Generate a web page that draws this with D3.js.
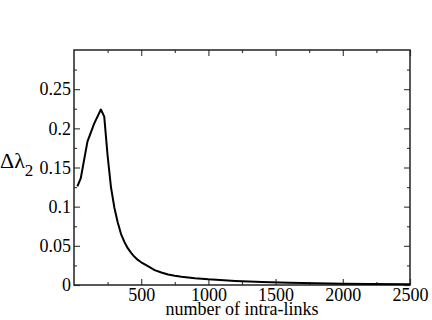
<!DOCTYPE html>
<html>
<head>
<meta charset="utf-8">
<script src="https://cdn.jsdelivr.net/npm/d3@7"></script>
<style>
  body { margin: 0; background: #fff; }
  svg text { font-family: "Liberation Serif", "Times New Roman", serif !important; }
</style>
</head>
<body>
<div id="chart"></div>
<script>
// intra-links vs delta lambda_2
const links = [25, 50, 100, 150, 200, 225, 250, 275, 300, 325, 350, 375, 400, 425, 450, 475, 500, 550, 600, 650, 700, 750, 800, 900, 1000, 1200, 1400, 1600, 1800, 2000, 2200, 2500];
const dLambda = [0.126, 0.136, 0.183, 0.206, 0.224, 0.215, 0.165, 0.125, 0.099, 0.080, 0.065, 0.055, 0.047, 0.041, 0.036, 0.032, 0.029, 0.024, 0.019, 0.016, 0.0135, 0.0118, 0.0105, 0.0086, 0.0072, 0.0052, 0.0039, 0.0029, 0.0022, 0.0017, 0.0013, 0.0009];
const xTicks = [500, 1000, 1500, 2000, 2500];
const xMinor = [250, 750, 1250, 1750, 2250];
const yTicks = [0, 0.05, 0.1, 0.15, 0.2, 0.25];
const yMinor = [0.025, 0.075, 0.125, 0.175, 0.225, 0.275];

const W = 432, H = 320;
const margin = { top: 50, right: 22, bottom: 35, left: 74 };
const w = W - margin.left - margin.right;
const h = H - margin.top - margin.bottom;

const svg = d3.select("#chart").append("svg")
    .attr("width", W)
    .attr("height", H);

const g = svg.append("g")
    .attr("transform", `translate(${margin.left},${margin.top})`);

const x = d3.scaleLinear().domain([0, 2500]).range([0, w]);
const y = d3.scaleLinear().domain([0, 0.3]).range([h, 0]);

// ticks point inward, on all four sides
function drawAxis(axis, tr) {
    const a = g.append("g").attr("transform", tr).call(axis);
    a.attr("font-family", null).attr("font-size", 18);
    a.select(".domain").remove();
    a.selectAll("line").attr("stroke", "#444").attr("stroke-width", 1.2);
    a.selectAll("text").attr("fill", "#000").style("font-size", "18px");
    return a;
}

const fmt = d => d === 0 ? "0" : String(d);

drawAxis(d3.axisBottom(x).tickValues(xTicks).tickSize(-6).tickPadding(3).tickFormat(fmt), `translate(0,${h})`);
drawAxis(d3.axisBottom(x).tickValues(xMinor).tickSize(-3).tickFormat(""), `translate(0,${h})`);
drawAxis(d3.axisTop(x).tickValues(xTicks).tickSize(-6).tickFormat(""), "translate(0,0)");
drawAxis(d3.axisTop(x).tickValues(xMinor).tickSize(-3).tickFormat(""), "translate(0,0)");

drawAxis(d3.axisLeft(y).tickValues(yTicks).tickSize(-6).tickPadding(3).tickFormat(fmt), "translate(0,0)");
drawAxis(d3.axisLeft(y).tickValues(yMinor).tickSize(-3).tickFormat(""), "translate(0,0)");
drawAxis(d3.axisRight(y).tickValues(yTicks).tickSize(-6).tickFormat(""), `translate(${w},0)`);
drawAxis(d3.axisRight(y).tickValues(yMinor).tickSize(-3).tickFormat(""), `translate(${w},0)`);

// frame
g.append("rect")
    .attr("width", w)
    .attr("height", h)
    .attr("fill", "none")
    .attr("stroke", "#222")
    .attr("stroke-width", 1.5);

// curve
const pts = links.map((v, i) => [v, dLambda[i]]);
g.append("path")
    .datum(pts)
    .attr("fill", "none")
    .attr("stroke", "#000")
    .attr("stroke-width", 2)
    .attr("stroke-linejoin", "round")
    .attr("d", d3.line().x(d => x(d[0])).y(d => y(d[1])));

// axis titles
svg.append("text")
    .attr("x", margin.left + w / 2)
    .attr("y", 315)
    .attr("text-anchor", "middle")
    .style("font-size", "18px")
    .text("number of intra-links");

const yl = svg.append("text")
    .attr("x", 0)
    .attr("y", 168)
    .style("font-size", "22px");
yl.append("tspan").text("Δλ");
yl.append("tspan").attr("dy", 8).style("font-size", "17px").text("2");
</script>
</body>
</html>
